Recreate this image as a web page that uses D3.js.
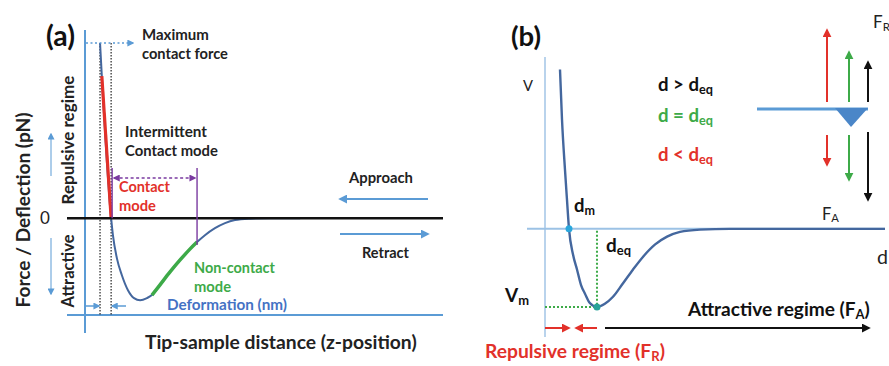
<!DOCTYPE html>
<html><head><meta charset="utf-8">
<script src="https://cdn.jsdelivr.net/npm/d3@7"></script>
<style>
html,body{margin:0;padding:0;background:#fff;}
svg{display:block;font-family:Lato,"Open Sans",sans-serif;}
</style></head>
<body>
<svg id="c" width="889" height="366"></svg>
<script>
// ---------- DATA ----------
// Panel (a): force–distance curve (arbitrary units)
const distA  = [4.2, 4.7, 7.3, 7.8, 8.9, 10.3, 12.0, 13.7, 15.4, 17.3, 18.7, 20.9, 23.7, 26.5, 29.3, 31.3, 33.5, 36.3, 39.1, 41.9, 46.1, 51.7, 60.1];
const forceA = [99.4, 80.6, 0, -9.7, -22.7, -32.4, -40.9, -45.4, -46.6, -45.4, -43.7, -38.0, -30.7, -23.9, -17.6, -13.6, -9.7, -5.7, -2.8, -1.1, -0.3, 0, 0];
const contactRange    = [4.7, 7.3];    // red segment
const nonContactRange = [18.7, 31.3];  // green segment
// Panel (b): potential curve V(d)
const distB = [4.41, 5.0, 5.88, 6.47, 7.06, 8.24, 9.41, 10.6, 11.76, 13.2, 15.29, 17.6, 20.0, 22.9, 25.9, 28.8, 32.4, 35.9, 39.7, 45.6, 54.4, 69, 100];
const potB  = [2.04, 1.40, 0.755, 0.37, 0, -0.33, -0.52, -0.72, -0.83, -0.95, -1.0, -0.96, -0.87, -0.70, -0.52, -0.36, -0.20, -0.10, -0.04, -0.01, 0, 0, 0];
const dM = 7.06, dEq = 15.29, vM = -1.0;

// ---------- SETUP ----------
const svg = d3.select("#c");
const BLUE = "#5b9bd5", CURVE = "#44679e", RED = "#e2312a", GREEN = "#3daa48", PURPLE = "#7a3aa0", TXT = "#222";
const defs = svg.append("defs");
function marker(id, color, size) {
  defs.append("marker").attr("id", id).attr("viewBox", "0 0 10 10").attr("refX", 8).attr("refY", 5)
    .attr("markerWidth", size).attr("markerHeight", size).attr("orient", "auto-start-reverse")
    .attr("markerUnits", "userSpaceOnUse")
    .append("path").attr("d", "M0,0 L10,5 L0,10 Z").attr("fill", color);
}
marker("mBlue", BLUE, 9); marker("mBlueS", BLUE, 7); marker("mRed", RED, 9); marker("mGreen", GREEN, 9);
marker("mBlack", "#111", 9); marker("mPurple", PURPLE, 7);

function line(x1, y1, x2, y2, stroke, w, opts = {}) {
  const l = svg.append("line").attr("x1", x1).attr("y1", y1).attr("x2", x2).attr("y2", y2)
    .attr("stroke", stroke).attr("stroke-width", w);
  if (opts.dash) l.attr("stroke-dasharray", opts.dash);
  if (opts.end) l.attr("marker-end", `url(#${opts.end})`);
  if (opts.start) l.attr("marker-start", `url(#${opts.start})`);
  return l;
}
// text helper: parts = [[str, sub?]], fit to target width by font-size
function text(x, y, parts, o = {}) {
  const t = svg.append("text").attr("x", x).attr("y", y).attr("fill", o.color || TXT)
    .attr("font-weight", o.weight || "bold").attr("font-size", o.size || 16)
    .attr("text-anchor", o.anchor || "start");
  if (o.rotate) t.attr("transform", `rotate(-90,${x},${y})`);
  if (typeof parts === "string") parts = [[parts]];
  parts.forEach(([s, sub]) => {
    const ts = t.append("tspan").text(s);
    if (sub) ts.attr("font-size", "68%").attr("baseline-shift", "-22%");
  });
  if (o.width) {
    const w = t.node().getComputedTextLength();
    t.attr("font-size", (o.size || 16) * o.width / w);
  }
  return t;
}

// ---------- PANEL (a) ----------
const xa = d3.scaleLinear().domain([0, 100]).range([85, 443]);
const ya = d3.scaleLinear().domain([-55, 100]).range([315, 42]);
const ptsA = distA.map((d, i) => [d, forceA[i]]);
const lineA = d3.line().x(d => xa(d[0])).y(d => ya(d[1])).curve(d3.curveMonotoneX);

// axes
line(xa(0), 30, xa(0), 333, BLUE, 2);
line(67, ya(-55), 443, ya(-55), BLUE, 2);

// dotted verticals at max force and zero crossing
const xTop = distA[0], xZero = distA[forceA.indexOf(0)];
line(xa(xTop), ya(forceA[0]), xa(xTop), ya(-55), "#333", 1.3, {dash: "1.5,1.5"});
line(xa(xZero), ya(forceA[0]), xa(xZero), ya(-55), "#333", 1.3, {dash: "1.5,1.5"});

// curve
svg.append("path").attr("d", lineA(ptsA)).attr("fill", "none").attr("stroke", CURVE).attr("stroke-width", 2);
svg.append("path").attr("d", lineA(ptsA.filter(d => d[0] >= contactRange[0] && d[0] <= contactRange[1])))
  .attr("fill", "none").attr("stroke", RED).attr("stroke-width", 3.2);
svg.append("path").attr("d", lineA(ptsA.filter(d => d[0] >= nonContactRange[0] && d[0] <= nonContactRange[1])))
  .attr("fill", "none").attr("stroke", GREEN).attr("stroke-width", 3.5);

// zero line
line(67, ya(0), 443, ya(0), "#111", 2.5);

// max force dotted arrow
line(xa(0) + 1, ya(forceA[0]), 133, ya(forceA[0]), BLUE, 1.6, {dash: "2,2.5", end: "mBlueS"});

// purple markers
const xNC = nonContactRange[1];
line(xa(xZero) + 1, 168, xa(xZero) + 1, ya(0), PURPLE, 1.4);
line(xa(xNC), 168, xa(xNC), ya(-13.6) + 3, PURPLE, 1.4);
line(xa(xZero) + 3, 178, xa(xNC) - 2, 178, PURPLE, 1.3, {dash: "3,2.5", start: "mPurple", end: "mPurple"});

// approach / retract arrows
line(428, 199, 340, 199, BLUE, 2, {end: "mBlue"});
line(340, 234, 428, 234, BLUE, 2, {end: "mBlue"});

// deformation arrows
line(xa(0) + 1, 306, xa(xTop) - 1, 306, BLUE, 1.5, {end: "mBlueS"});
line(126, 306, xa(xZero) + 1, 306, BLUE, 1.5, {end: "mBlueS"});

// regime small arrows
line(51, 176, 51, 134, BLUE, 1, {end: "mBlueS"});
line(51, 238, 51, 294, BLUE, 1, {end: "mBlueS"});

// texts (a)
text(46, 46, "(a)", {size: 26, width: 29, color: "#111"});
text(142, 40, "Maximum", {size: 15, width: 67});
text(142, 59, "contact force", {size: 15, width: 86});
text(125, 137, "Intermittent", {size: 15, width: 82});
text(125, 156, "Contact mode", {size: 15, width: 93});
text(119, 192, "Contact", {size: 16, width: 51, color: RED});
text(119, 211, "mode", {size: 16, width: 37, color: RED});
text(349, 183, "Approach", {size: 15, width: 64});
text(362, 258, "Retract", {size: 15, width: 47});
text(194, 273, "Non-contact", {size: 15, width: 81, color: GREEN});
text(194, 292, "mode", {size: 15, width: 37, color: GREEN});
text(167, 310, "Deformation (nm)", {size: 15, width: 120, color: "#4472c4"});
text(145, 349, "Tip-sample distance (z-position)", {size: 21, width: 272});
text(30, 210, "Force / Deflection (pN)", {size: 20, width: 195, rotate: true, anchor: "middle"});
text(74, 140, "Repulsive regime", {size: 16, width: 129, rotate: true, anchor: "middle"});
text(74, 271, "Attractive", {size: 16, width: 73, rotate: true, anchor: "middle"});
text(45, 224, "0", {size: 17, weight: "normal", anchor: "middle"});

// ---------- PANEL (b) ----------
const xb = d3.scaleLinear().domain([0, 100]).range([545, 885]);
const yb = d3.scaleLinear().domain([-1.385, 2.2]).range([337, 57]);
const ptsB = distB.map((d, i) => [d, potB[i]]);
const lineB = d3.line().x(d => xb(d[0])).y(d => yb(d[1])).curve(d3.curveMonotoneX);

line(xb(0), yb(2.2), xb(0), yb(-1.385), "#a8c8e8", 1.6);
line(527, yb(0), 885, yb(0), "#9cc2e5", 2);

// green dotted guides
line(xb(dEq), yb(0) + 2, xb(dEq), yb(vM), GREEN, 2, {dash: "2,2"});
line(xb(0), yb(vM), xb(dEq), yb(vM), GREEN, 2, {dash: "2,2"});

svg.append("path").attr("d", lineB(ptsB)).attr("fill", "none").attr("stroke", CURVE).attr("stroke-width", 2.4);

svg.append("circle").attr("cx", xb(dM)).attr("cy", yb(0)).attr("r", 3.5).attr("fill", "#2aa7dc");
svg.append("circle").attr("cx", xb(dEq)).attr("cy", yb(vM)).attr("r", 3.5).attr("fill", "#27a39a");

// cantilever
line(757, 109, 868, 109, BLUE, 3);
svg.append("path").attr("d", "M835,108 L868,108 L851,127 Z").attr("fill", "#4a86c8");

// force arrows
line(827, 102, 827, 30, RED, 2, {end: "mRed"});
line(849, 102, 849, 52, GREEN, 2, {end: "mGreen"});
line(868, 102, 868, 62, "#111", 2, {end: "mBlack"});
line(827, 135, 827, 165, RED, 2, {end: "mRed"});
line(849, 135, 849, 180, GREEN, 2, {end: "mGreen"});
line(868, 132, 868, 200, "#111", 2, {end: "mBlack"});

// regime arrows at bottom
line(605, 328, 869, 328, "#111", 2, {end: "mBlack"});
line(545, 328, 569, 328, RED, 2, {end: "mRed"});
line(597, 328, 576, 328, RED, 2, {end: "mRed"});

// texts (b)
text(511, 46, "(b)", {size: 26, width: 30, color: "#111"});
text(523, 91, "V", {size: 16, weight: "normal", width: 10});
text(658, 91, [["d > d"], ["eq", true]], {size: 17, width: 55, color: "#111"});
text(658, 122, [["d = d"], ["eq", true]], {size: 17, width: 55, color: GREEN});
text(658, 161, [["d < d"], ["eq", true]], {size: 17, width: 55, color: RED});
text(574, 212, [["d"], ["m", true]], {size: 17, width: 21, color: "#111"});
text(606, 252, [["d"], ["eq", true]], {size: 17, width: 25, color: "#111"});
text(505, 302, [["V"], ["m", true]], {size: 17, width: 24, color: "#111"});
text(822, 220, [["F"], ["A", true]], {size: 16, weight: "normal", width: 17});
text(877, 264, "d", {size: 18, weight: "normal", width: 11});
text(873, 28, [["F"], ["R", true]], {size: 16, weight: "normal", width: 17});
text(688, 316, [["Attractive regime (F"], ["A", true], [")"]], {size: 19, width: 182, color: "#111"});
text(485, 358, [["Repulsive regime (F"], ["R", true], [")"]], {size: 19, width: 180, color: RED});
</script>
</body></html>
